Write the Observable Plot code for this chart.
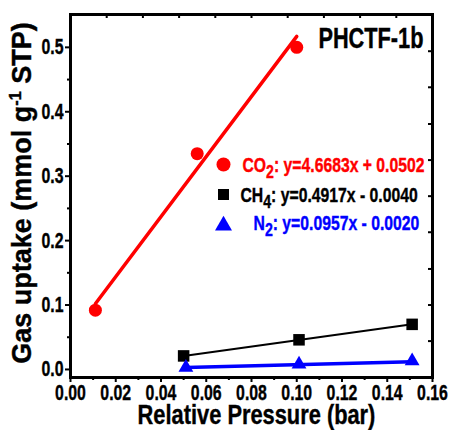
<!DOCTYPE html>
<html><head><meta charset="utf-8">
<script src="https://cdn.jsdelivr.net/npm/d3@7"></script>
<script src="https://cdn.jsdelivr.net/npm/@observablehq/plot@0.6"></script>
<style>
body{margin:0;background:#fff;}
svg{font-family:"Liberation Sans",Arial,sans-serif;font-weight:bold;}
</style>
</head><body><div id="chart"></div>
<script>
// ---- data ----
const co2X = [0.011, 0.056, 0.100];
const co2Y = [0.092, 0.335, 0.500];
const ch4X = [0.050, 0.101, 0.151];
const ch4Y = [0.021, 0.046, 0.070];
const n2X  = [0.051, 0.101, 0.151];
const n2Y  = [0.003, 0.008, 0.013];
// fitted lines (end points)
const co2FitX = [0.011, 0.100];
const co2FitY = [0.102, 0.517];
const ch4FitX = [0.050, 0.151];
const ch4FitY = [0.021, 0.070];
const n2FitX  = [0.051, 0.151];
const n2FitY  = [0.003, 0.012];
// ticks
const xTicks = [0, 0.02, 0.04, 0.06, 0.08, 0.10, 0.12, 0.14, 0.16];
const xMinor = [0.01, 0.03, 0.05, 0.07, 0.09, 0.11, 0.13, 0.15];
const yTicks = [0, 0.1, 0.2, 0.3, 0.4, 0.5];
const yMinor = [0.05, 0.15, 0.25, 0.35, 0.45];
const topTicks = [0.016, 0.032, 0.048, 0.064, 0.080, 0.096, 0.112, 0.128, 0.144];
const rightTicks = [0.044, 0.100, 0.156, 0.213, 0.269, 0.325, 0.381, 0.438, 0.494];
// texts
const legendLabels = ["CO_{2}: y=4.6683x + 0.0502", "CH_{4}: y=0.4917x - 0.0040", "N_{2}: y=0.0957x - 0.0020"];
const legendColors = ["#ff0000", "#000000", "#0000ff"];
const titleText = "PHCTF-1b";
const xTitle = "Relative Pressure (bar)";
const yTitle = "Gas uptake (mmol g^{-1} STP)";

const pts = (xs, ys) => xs.map((x, i) => ({x, y: ys[i]}));

const chart = Plot.plot({
  width: 451,
  height: 430,
  marginTop: 14,
  marginRight: 19,
  marginBottom: 53,
  marginLeft: 70,
  x: {domain: [0, 0.16], label: null},
  y: {domain: [-0.0125, 0.551], label: null},
  marks: [
    Plot.axisX(xTicks, {anchor: "bottom", tickSize: 5, tickPadding: 2, tickFormat: d3.format(".2f"), fontSize: 22, strokeWidth: 2, label: null}),
    Plot.axisX(xMinor, {anchor: "bottom", tickSize: 3, text: null, strokeWidth: 2, label: null}),
    Plot.axisY(yTicks, {anchor: "left", tickSize: 5, tickPadding: 2, tickFormat: d3.format(".1f"), fontSize: 22, strokeWidth: 2, label: null}),
    Plot.axisY(yMinor, {anchor: "left", tickSize: 3, text: null, strokeWidth: 2, label: null}),
    Plot.tickX(topTicks, {x: d => d, insetBottom: 359, strokeWidth: 2}),
    Plot.tickY(rightTicks, {y: d => d, insetLeft: 358, strokeWidth: 2}),
    Plot.frame({strokeWidth: 3}),
    Plot.line(pts(co2FitX, co2FitY), {x: "x", y: "y", stroke: legendColors[0], strokeWidth: 3.5}),
    Plot.line(pts(ch4FitX, ch4FitY), {x: "x", y: "y", stroke: legendColors[1], strokeWidth: 2}),
    Plot.line(pts(n2FitX, n2FitY), {x: "x", y: "y", stroke: legendColors[2], strokeWidth: 3.5}),
    Plot.dot(pts(co2X, co2Y), {x: "x", y: "y", symbol: "circle", r: 6.5, fill: legendColors[0]}),
    Plot.dot(pts(ch4X, ch4Y), {x: "x", y: "y", symbol: "square", r: 6.5, fill: legendColors[1]}),
    Plot.dot(pts(n2X, n2Y), {x: "x", y: "y", symbol: "triangle", r: 5.5, fill: legendColors[2]}),
    // legend
    Plot.dot([0], {frameAnchor: "top-left", dx: 153, dy: 150, symbol: "circle", r: 7, fill: legendColors[0]}),
    Plot.dot([0], {frameAnchor: "top-left", dx: 153, dy: 180, symbol: "square", r: 6.2, fill: legendColors[1]}),
    Plot.dot([0], {frameAnchor: "top-left", dx: 153, dy: 211, symbol: "triangle", r: 6.3, fill: legendColors[2]}),
    Plot.text([legendLabels[0]], {frameAnchor: "top-left", dx: 172, dy: 150.5, textAnchor: "start", lineAnchor: "middle", fontSize: 21, fill: legendColors[0]}),
    Plot.text([legendLabels[1]], {frameAnchor: "top-left", dx: 170, dy: 180.5, textAnchor: "start", lineAnchor: "middle", fontSize: 21, fill: legendColors[1]}),
    Plot.text([legendLabels[2]], {frameAnchor: "top-left", dx: 183, dy: 208.5, textAnchor: "start", lineAnchor: "middle", fontSize: 21, fill: legendColors[2]}),
    // title and axis titles
    Plot.text([titleText], {frameAnchor: "top-right", dx: -9, dy: 24, textAnchor: "end", lineAnchor: "middle", fontSize: 29}),
    Plot.text([xTitle], {frameAnchor: "bottom", dx: 5, dy: 38, textAnchor: "middle", lineAnchor: "middle", fontSize: 28}),
    Plot.text([yTitle], {frameAnchor: "left", dx: -48, dy: -3, rotate: -90, textAnchor: "middle", lineAnchor: "middle", fontSize: 27})
  ]
});
document.getElementById("chart").appendChild(chart);

// rich text (sub/superscripts) and horizontal condensing of the bold font
const svgns = "http://www.w3.org/2000/svg";
function richText(el, str) {
  const fs = parseFloat(getComputedStyle(el).fontSize) || 16;
  el.textContent = "";
  const re = /([_^])\{([^}]*)\}/g;
  const parts = [];
  let last = 0, m;
  while ((m = re.exec(str))) {
    if (m.index > last) parts.push({t: str.slice(last, m.index)});
    parts.push({t: m[2], k: m[1]});
    last = re.lastIndex;
  }
  if (last < str.length) parts.push({t: str.slice(last)});
  let cur = 0;
  for (const p of parts) {
    const ts = document.createElementNS(svgns, "tspan");
    const target = p.k === "_" ? 0.28 * fs : p.k === "^" ? -0.38 * fs : 0;
    if (target !== cur) ts.setAttribute("dy", target - cur);
    cur = target;
    if (p.k === "_") ts.setAttribute("font-size", 0.9 * fs);
    if (p.k === "^") ts.setAttribute("font-size", 0.6 * fs);
    ts.textContent = p.t;
    el.appendChild(ts);
  }
}
function condense(el, s) {
  const xl = el.x && el.x.baseVal;
  const X = xl && xl.numberOfItems ? xl.getItem(0).value : 0;
  const t = el.getAttribute("transform") || "";
  el.setAttribute("transform", `${t} translate(${X},0) scale(${s},1) translate(${-X},0)`);
}
d3.select(chart).selectAll("text").each(function() {
  const txt = this.textContent;
  const isTick = /^-?\d+\.\d+$/.test(txt);
  if (/[_^]\{/.test(txt)) richText(this, txt);
  if (!txt.startsWith("Gas uptake")) condense(this, txt === xTitle ? 0.78 : isTick ? 0.72 : 0.75);
  // slightly heavier strokes, like the original's heavy bold face
  this.setAttribute("stroke", "currentColor");
  this.style.stroke = getComputedStyle(this).fill;
  this.style.strokeWidth = "0.4px";
});
</script>
</body></html>
